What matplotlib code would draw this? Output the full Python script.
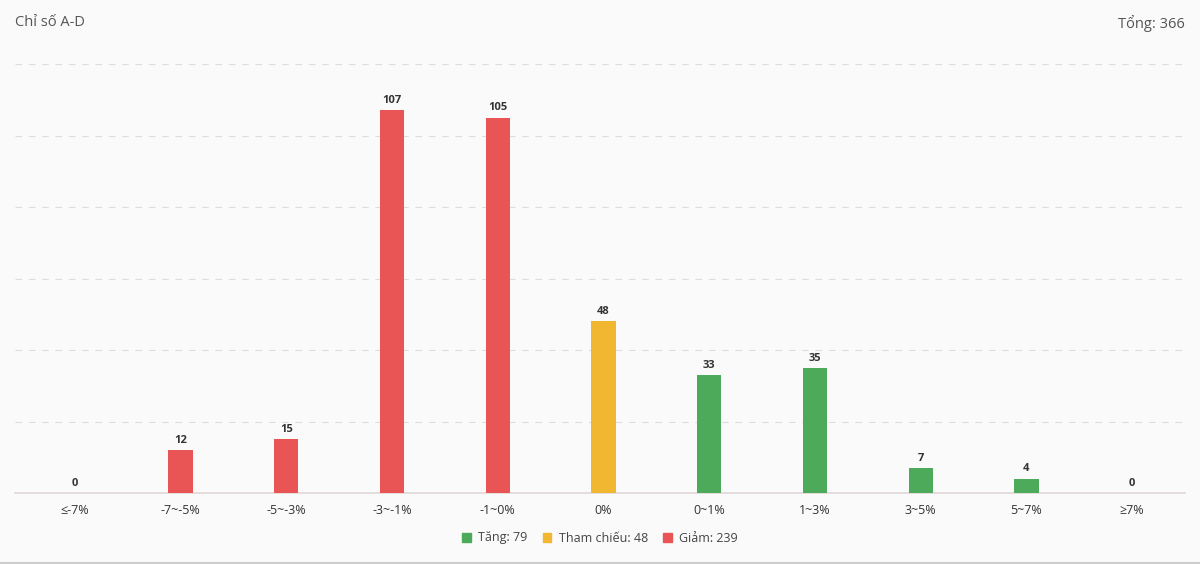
import matplotlib.pyplot as plt
from matplotlib.patches import Patch

plt.rcParams['font.family'] = ['Open Sans', 'Noto Sans', 'DejaVu Sans']

categories = ['≤-7%', '-7~-5%', '-5~-3%', '-3~-1%', '-1~0%', '0%',
              '0~1%', '1~3%', '3~5%', '5~7%', '≥7%']
values = [0, 12, 15, 107, 105, 48, 33, 35, 7, 4, 0]
groups = ['down'] * 5 + ['ref'] + ['up'] * 5

colors = {'up': '#4caa5a', 'ref': '#f2b731', 'down': '#e95454'}
legend_labels = ['Tăng: 79', 'Tham chiếu: 48', 'Giảm: 239']
total_label = 'Tổng: 366'

fig = plt.figure(figsize=(12, 5.64), dpi=100)
fig.patch.set_facecolor('#fafafa')
ax = fig.add_axes([22 / 1200, 71 / 564, 1163 / 1200, 429 / 564])
ax.set_facecolor('#fafafa')

x = range(len(categories))
ax.bar(x, values, width=0.23, color=[colors[g] for g in groups], zorder=3)
for i, v in enumerate(values):
    ax.text(i, v + 1.2, str(v), ha='center', va='bottom', fontsize=8,
            fontweight='bold', color='#333333')

ax.set_xlim(-0.5, len(categories) - 0.5)
ax.set_ylim(0, 120)
ax.set_yticks(range(20, 121, 20))
# dashed grid, drawn a bit wider than the axes like the original
for yv in range(20, 121, 20):
    ax.plot([-0.57, 10.5], [yv, yv], linestyle=(0, (6, 6)), color='#dddddd',
            linewidth=0.8, clip_on=False, zorder=1)
ax.plot([-0.57, 10.5], [0, 0], color='#e0d6d8', linewidth=1.2, clip_on=False, zorder=2)
ax.set_xticks(list(x))
ax.set_xticklabels(categories, fontsize=9, color='#333333')
ax.tick_params(axis='x', length=0, pad=8)
ax.tick_params(axis='y', length=0, labelleft=False)
for s in ax.spines.values():
    s.set_visible(False)

fig.text(15 / 1200, 1 - 23 / 564, 'Chỉ số A-D', fontsize=10.5, color='#555555',
         va='center', ha='left')
fig.text(1185 / 1200, 1 - 23 / 564, total_label, fontsize=10.5, color='#555555',
         va='center', ha='right')

handles = [Patch(color=colors[k]) for k in ['up', 'ref', 'down']]
fig.legend(handles, legend_labels, loc='center', bbox_to_anchor=(0.5, 1 - 538 / 564),
           ncol=3, frameon=False, fontsize=9, handlelength=0.7, handleheight=0.7,
           handletextpad=0.6, columnspacing=1.2, labelcolor='#444444')

fig.add_artist(plt.Line2D([0, 1], [1 / 564, 1 / 564], color='#cccccc', linewidth=1.5))

fig.savefig('out.png', dpi=100, facecolor=fig.get_facecolor())
